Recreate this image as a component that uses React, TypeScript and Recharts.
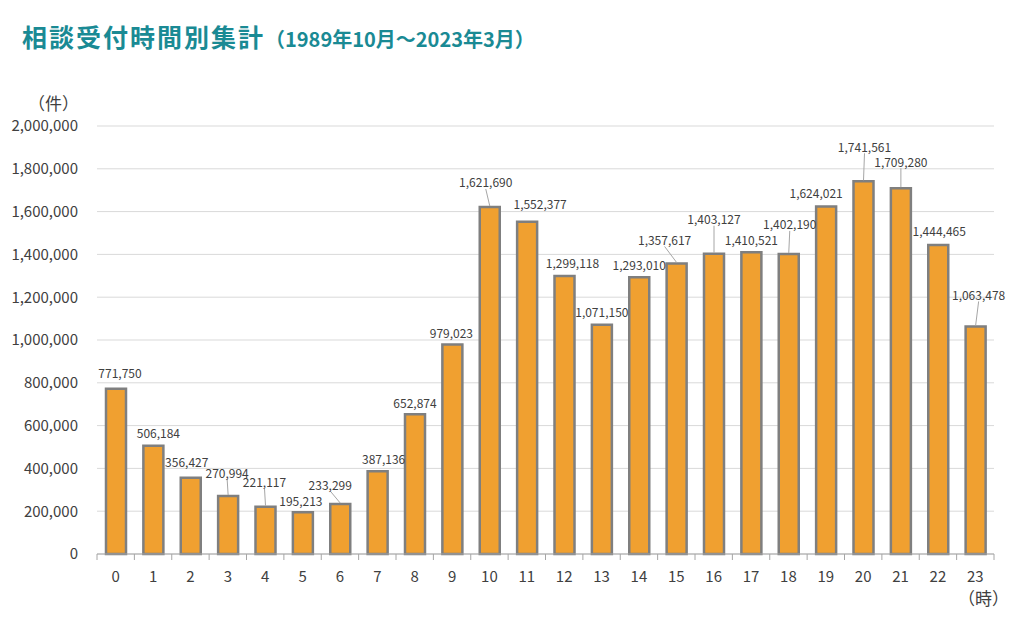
import { BarChart, Bar, XAxis, YAxis, CartesianGrid, LabelList } from "recharts";

const hours = ["0", "1", "2", "3", "4", "5", "6", "7", "8", "9", "10", "11", "12", "13", "14", "15", "16", "17", "18", "19", "20", "21", "22", "23"];
const counts = [
  771750, 506184, 356427, 270994, 221117, 195213, 233299, 387136, 652874, 979023, 1621690, 1552377,
  1299118, 1071150, 1293010, 1357617, 1403127, 1410521, 1402190, 1624021, 1741561, 1709280, 1444465, 1063478,
];
const yTicks = [0, 200000, 400000, 600000, 800000, 1000000, 1200000, 1400000, 1600000, 1800000, 2000000];

// label placement tweaks [dx, distance above bar top]
const labelOffsets: [number, number][] = [
  [4, 16], [5, 13], [-4, 16], [-1, 24], [-1, 25], [-2, 12], [-10, 20], [6, 13],
  [0, 12], [-1, 12], [-4, 25], [13, 18], [8, 13], [0, 13], [0, 13], [-12, 24],
  [0, 35], [0, 13], [1, 30], [-10, 14], [1, 35], [0, 27], [1, 14], [3, 32],
];

const data = hours.map((h, i) => ({ hour: h, count: counts[i] }));

const FONT = '"Noto Sans CJK JP", "Noto Sans", sans-serif';
const PLOT_LEFT = 97;
const PLOT_RIGHT = 994;
const HALF_BAND = (PLOT_RIGHT - PLOT_LEFT) / hours.length / 2;

const fmt = (v: number) => v.toLocaleString("en-US");

function XTick(props: any) {
  const { x, y, payload, index } = props;
  return (
    <g>
      <line x1={x - HALF_BAND} x2={x - HALF_BAND} y1={y - 8} y2={y - 2} stroke="#a6a6a6" />
      {index === hours.length - 1 && (
        <line x1={x + HALF_BAND} x2={x + HALF_BAND} y1={y - 8} y2={y - 2} stroke="#a6a6a6" />
      )}
      <text x={x} y={y + 20} textAnchor="middle" fontSize={15} fill="#404040" fontFamily={FONT}>
        {payload.value}
      </text>
    </g>
  );
}

function BarLabel(props: any) {
  const { x, y, width, value, index } = props;
  const cx = x + width / 2;
  const [dx, gap] = labelOffsets[index];
  const ly = y - gap;
  return (
    <g>
      {gap > 18 && (
        <line x1={cx + dx} y1={ly + 7} x2={cx} y2={y - 1} stroke="#a6a6a6" strokeWidth={1} />
      )}
      <text
        x={cx + dx}
        y={ly}
        textAnchor="middle"
        dominantBaseline="central"
        fontSize={12}
        fill="#404040"
        fontFamily={FONT}
      >
        {fmt(value)}
      </text>
    </g>
  );
}

export default function App() {
  return (
    <div style={{ position: "absolute", left: 0, top: 0, width: 1024, height: 627, background: "#fff", fontFamily: FONT }}>
      <div style={{ position: "absolute", left: 22, top: 18, whiteSpace: "nowrap", color: "#1a8a94", fontWeight: 700 }}>
        <span style={{ fontSize: 25, letterSpacing: 2 }}>相談受付時間別集計</span>
        <span style={{ fontSize: 20 }}>（1989年10月～2023年3月）</span>
      </div>
      <div style={{ position: "absolute", left: 28, top: 90, fontSize: 17, color: "#404040" }}>（件）</div>
      <div style={{ position: "absolute", left: 958, top: 585, fontSize: 17, color: "#404040" }}>（時）</div>
      <BarChart
        width={1024}
        height={627}
        data={data}
        margin={{ top: 126, right: 1024 - PLOT_RIGHT, bottom: 0, left: 0 }}
        barCategoryGap={0}
      >
        <CartesianGrid vertical={false} stroke="#d9d9d9" />
        <XAxis
          dataKey="hour"
          axisLine={{ stroke: "#a6a6a6" }}
          tickLine={false}
          tick={<XTick />}
          interval={0}
          height={73}
          tickSize={0}
          tickMargin={8}
        />
        <YAxis
          domain={[0, 2000000]}
          ticks={yTicks}
          width={PLOT_LEFT}
          axisLine={false}
          tickLine={false}
          tickSize={0}
          tickMargin={19}
          tickFormatter={fmt}
          tick={{ fontSize: 15, fill: "#404040", fontFamily: FONT }}
        />
        <Bar dataKey="count" fill="#f0a030" stroke="#7f7f7f" strokeWidth={2.5} barSize={20} isAnimationActive={false}>
          <LabelList dataKey="count" content={<BarLabel />} />
        </Bar>
      </BarChart>
    </div>
  );
}
